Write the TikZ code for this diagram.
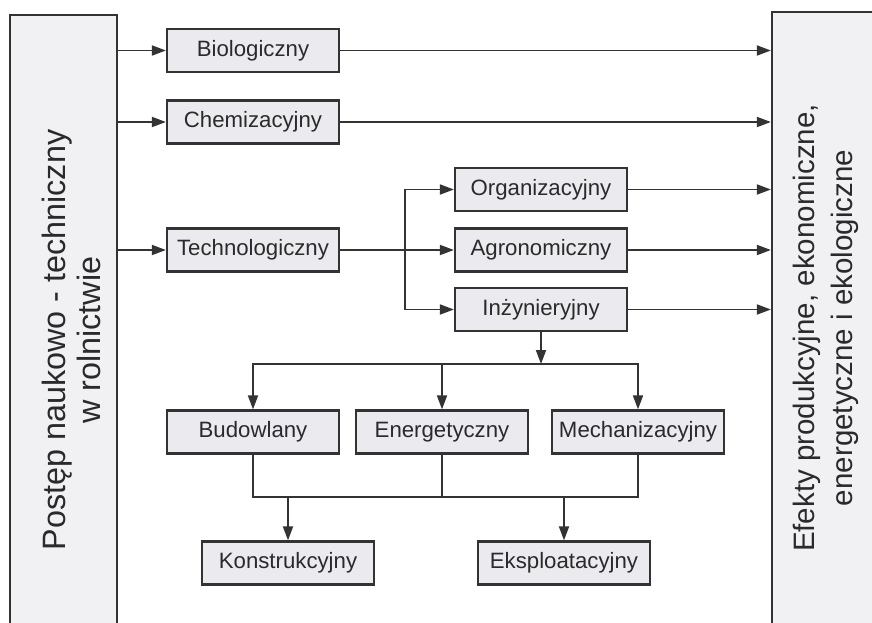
\documentclass[tikz,border=0pt]{standalone}
\usepackage{fontspec}
\setmainfont{Liberation Sans}
\usetikzlibrary{arrows.meta}
\definecolor{linegray}{HTML}{333333}
\definecolor{boxgray}{HTML}{EBEBEF}
\definecolor{sidegray}{HTML}{F1F1F4}
\definecolor{textgray}{HTML}{2A2A2A}

\begin{document}
\begin{tikzpicture}[
    kind/.style={draw=linegray, fill=boxgray, line width=1.6pt, minimum width=4.3cm, minimum height=1.075cm, text=textgray, font=\fontsize{15.8}{18}\selectfont},
    side/.style={draw=linegray, fill=sidegray, line width=1.6pt},
    sidetext/.style={rotate=90, align=center, text=textgray},
    flow/.style={draw=linegray, line width=1.3pt, -{Triangle[length=3.5mm,width=2.5mm]}},
    link/.style={draw=linegray, line width=1.3pt}
]
\useasboundingbox (0,0) rectangle (21.8,15.55);
\clip (0,0) rectangle (21.8,15.55);

% Side boxes
\node[side, minimum width=2.675cm, minimum height=16.275cm] (postep) at (1.5875,7.0375) {};
\node[sidetext, font=\fontsize{23}{25}\selectfont] (postepopis) at (1.79,7.05) {Postęp naukowo - techniczny\\w rolnictwie};
\node[side, minimum width=2.75cm, minimum height=15.8cm] (efekty) at (20.675,7.35) {};
\node[sidetext, font=\fontsize{21}{27}\selectfont] (efektyopis) at (20.64,7.35) {Efekty produkcyjne, ekonomiczne,\\energetyczne i ekologiczne};

% Kinds of progress
\node[kind] (bio) at (6.325,14.2875) {Biologiczny};
\node[kind] (chem) at (6.325,12.5) {Chemizacyjny};
\node[kind] (tech) at (6.325,9.3) {Technologiczny};
\node[kind] (org) at (13.525,10.8125) {Organizacyjny};
\node[kind] (agro) at (13.525,9.3) {Agronomiczny};
\node[kind] (inz) at (13.525,7.8125) {Inżynieryjny};

% Engineering branches
\node[kind] (bud) at (6.325,4.75) {Budowlany};
\node[kind] (ener) at (11.05,4.75) {Energetyczny};
\node[kind] (mech) at (15.95,4.75) {Mechanizacyjny};
\node[kind] (konst) at (7.2,1.475) {Konstrukcyjny};
\node[kind] (eksp) at (14.1,1.475) {Eksploatacyjny};

\coordinate (fork) at (10.125,9.3);
\coordinate (split) at (13.525,6.45);
\coordinate (merge) at (0,3.125);

% Connectors
\foreach \n in {bio,chem,tech}
{
    \draw[flow] (postep.east |- \n.west) -- (\n.west);
}
\foreach \n in {bio,chem,org,agro,inz}
{
    \draw[flow] (\n.east) -- (\n.east -| efekty.west);
}
\draw[flow] (tech.east) -- (agro.west);
\draw[link] (fork |- org) -- (fork |- inz);
\draw[flow] (fork |- org) -- (org.west);
\draw[flow] (fork |- inz) -- (inz.west);

\draw[flow] (inz.south) -- (split);
\draw[flow] (split) -| (bud.north);
\draw[flow] (split) -| (mech.north);
\draw[flow] (ener.north |- split) -- (ener.north);

\draw[link] (bud.south) |- (mech.south |- merge) -- (mech.south);
\draw[link] (ener.south) -- (ener.south |- merge);
\draw[flow] (konst.north |- merge) -- (konst.north);
\draw[flow] (eksp.north |- merge) -- (eksp.north);

\end{tikzpicture}
\end{document}
